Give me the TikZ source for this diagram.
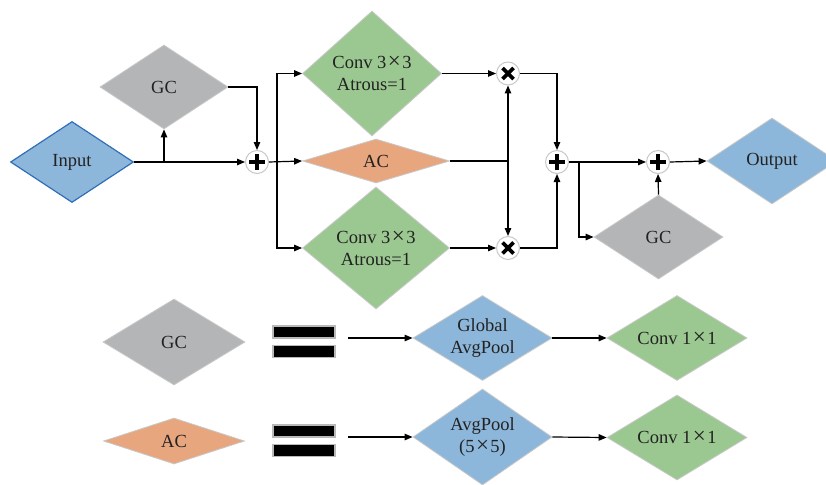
\documentclass[tikz,border=0pt]{standalone}
\usepackage{fontspec}
\setmainfont{Liberation Serif}
\usetikzlibrary{shapes.geometric,arrows.meta}
\definecolor{cblue}{HTML}{8DB7DA}
\definecolor{cgreen}{HTML}{9BC890}
\definecolor{cgray}{HTML}{B4B5B7}
\definecolor{corange}{HTML}{E8A67F}
\definecolor{cedge}{HTML}{C8C8C8}
\definecolor{cinedge}{HTML}{2F6EBA}
\definecolor{ctext}{HTML}{222222}
\newcommand{\mytimes}{\hspace{1.5pt}{\fontsize{23}{23}\selectfont×}\hspace{1.5pt}}
\begin{document}
\begin{tikzpicture}[x=1pt,y=-1pt,
  dia/.style={diamond, inner sep=0pt, draw=cedge, line width=0.8pt, align=center,
    text=ctext, font=\fontsize{18.5}{22}\selectfont},
  opnode/.style={circle, draw=cedge, fill=white, line width=1pt, minimum size=23pt, inner sep=0pt},
  plusop/.style={opnode, path picture={
    \draw[black, line width=4.4pt] ([xshift=-8pt]path picture bounding box.center) -- ([xshift=8pt]path picture bounding box.center);
    \draw[black, line width=4.4pt] ([yshift=-8pt]path picture bounding box.center) -- ([yshift=8pt]path picture bounding box.center);}},
  timesop/.style={opnode, path picture={
    \draw[black, line width=3.8pt] ([shift={(-5.5pt,-5.5pt)}]path picture bounding box.center) -- ([shift={(5.5pt,5.5pt)}]path picture bounding box.center);
    \draw[black, line width=3.8pt] ([shift={(-5.5pt,5.5pt)}]path picture bounding box.center) -- ([shift={(5.5pt,-5.5pt)}]path picture bounding box.center);}},
  bar/.style={draw=gray!55, line width=1.5pt, fill=black, minimum width=62pt, minimum height=12pt, inner sep=0pt},
  con/.style={line width=1.2pt, draw=black},
  arr/.style={con, -{Triangle[length=8pt,width=6.5pt]}},
  arrb/.style={con, {Triangle[length=8pt,width=6.5pt]}-{Triangle[length=8pt,width=6.5pt]}}
]
\useasboundingbox (0,0) rectangle (826,484);
\clip (0,0) rectangle (826,484);

% top diagram
\node[dia, fill=cblue, draw=cinedge, line width=1.2pt, minimum width=123pt, minimum height=81pt, aspect=1.52] (in) at (72,162) {Input};
\node[dia, fill=cgray, minimum width=128pt, minimum height=84pt, aspect=1.52] (gc1) at (164,87) {GC};
\node[plusop] (p1) at (257,162) {};
\node[dia, fill=cgreen, minimum width=139pt, minimum height=125pt, aspect=1.11] (c1) at (372,73.5) {Conv 3\mytimes 3\\Atrous=1};
\node[dia, fill=corange, minimum width=147pt, minimum height=44pt, aspect=3.34] (ac) at (376,161) {AC};
\node[dia, fill=cgreen, minimum width=147pt, minimum height=122pt, aspect=1.2] (c2) at (376,248) {Conv 3\mytimes 3\\Atrous=1};
\node[timesop] (m1) at (508,73.5) {};
\node[timesop] (m2) at (508,248) {};
\node[plusop] (p2) at (557,162) {};
\node[plusop] (p3) at (658,162) {};
\node[dia, fill=cblue, minimum width=130pt, minimum height=86pt, aspect=1.51] (out) at (772,161) {Output};
\node[dia, fill=cgray, minimum width=129pt, minimum height=84pt, aspect=1.54] (gc2) at (658.5,237) {GC};

\coordinate (b1) at (gc1.south |- in.east);
\coordinate (s1) at (277,162);
\coordinate (s2) at (579,162);

\draw[arr] (in.east) -- (p1.west);
\draw[arr] (b1) -- (gc1.south);
\draw[arr] (gc1.east) -| (p1.north);
\draw[arr] (p1.east) -- (ac.west);
\draw[arr] (s1) |- (c1.west);
\draw[arr] (s1) |- (c2.west);
\draw[arr] (c1.east) -- (m1.west);
\draw[arr] (c2.east) -- (m2.west);
\draw[con] (ac.east) -- (ac.east -| m1.center);
\draw[arrb] (m1.south) -- (m2.north);
\draw[arr] (m1.east) -| (p2.north);
\draw[arr] (m2.east) -| (p2.south);
\draw[arr] (p2.east) -- (p3.west);
\draw[arr] (s2) |- (gc2.west);
\draw[arr] (gc2.north) -- (p3.south);
\draw[arr] (p3.east) -- (out.west);

% legend
\node[dia, fill=cgray, minimum width=142pt, minimum height=86pt, aspect=1.65] (gc3) at (174,342) {GC};
\node[bar] (eqa1) at (304,332) {};
\node[bar] (eqa2) at (304,351.5) {};
\coordinate (a1) at (348,338);
\node[dia, fill=cblue, minimum width=139pt, minimum height=85pt, aspect=1.64] (gap) at (482.5,338) {Global\\AvgPool};
\node[dia, fill=cgreen, minimum width=140pt, minimum height=85pt, aspect=1.65] (cv1) at (677,338) {Conv 1\mytimes 1};
\draw[arr] (a1) -- (gap.west);
\draw[arr] (gap.east) -- (cv1.west);

\node[dia, fill=corange, minimum width=141pt, minimum height=46pt, aspect=3.07] (ac2) at (174,441) {AC};
\node[bar] (eqb1) at (304,431) {};
\node[bar] (eqb2) at (304,450.5) {};
\coordinate (a2) at (348,437);
\node[dia, fill=cblue, minimum width=139pt, minimum height=96pt, aspect=1.45] (ap) at (482.5,437) {AvgPool\\(5\mytimes 5)};
\node[dia, fill=cgreen, minimum width=140pt, minimum height=85pt, aspect=1.65] (cv2) at (677,437.5) {Conv 1\mytimes 1};
\draw[arr] (a2) -- (ap.west);
\draw[arr] (ap.east) -- (cv2.west);
\end{tikzpicture}
\end{document}
